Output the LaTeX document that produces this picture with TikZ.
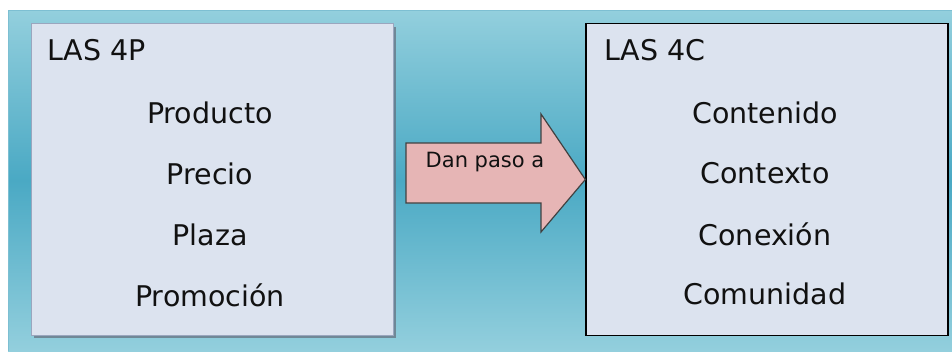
\documentclass[tikz,border=0pt]{standalone}
\usepackage{fontspec}
\setmainfont{DejaVu Sans}
\usetikzlibrary{shapes.arrows,shadows}
\definecolor{bglight}{HTML}{93CFDD}
\definecolor{bgdark}{HTML}{4AA9C4}
\definecolor{bgedge}{HTML}{7DBFD2}
\definecolor{boxfill}{HTML}{DCE3EF}
\definecolor{boxedge}{HTML}{9AA6BE}
\definecolor{arrowfill}{HTML}{E6B5B5}
\definecolor{ink}{HTML}{111111}
\tikzset{
  panel/.style={fill=boxfill, minimum width=362pt, minimum height=312pt, inner sep=0pt},
  title/.style={anchor=west, text=ink, font=\fontsize{28.5}{34}\selectfont, inner sep=0pt},
  item/.style={text=ink, font=\fontsize{28.5}{34}\selectfont, inner sep=0pt},
}
\begin{document}
\begin{tikzpicture}[x=1pt,y=-1pt]
  \useasboundingbox (0,0) rectangle (952,351);
  % backdrop with vertical gradient
  \shade[top color=bglight, bottom color=bglight, middle color=bgdark]
    (8,10) rectangle (952,351);
  \draw[bgedge, line width=1pt] (8,351) -- (8,10.5) -- (952,10.5);

  % left panel with soft drop shadow
  \fill[black!35!boxedge, opacity=0.7] (34,27) rectangle (396,338);
  \node[panel, draw=boxedge, line width=0.6pt] (p4) at (212,179.5) {};
  \node[title] at (47,50) {LAS 4P};
  \node[item] (prod) at (210,113) {Producto};
  \node[item] (prec) at (210,174) {Precio};
  \node[item] (plaz) at (210,235) {Plaza};
  \node[item] (prom) at (210,295) {Promoción};

  % right panel
  \node[panel, draw=black, line width=1.3pt] (c4) at (767,179.5) {};
  \node[title] at (604,50) {LAS 4C};
  \node[item] (cont) at (765,113) {Contenido};
  \node[item] (ctx) at (765,173) {Contexto};
  \node[item] (conx) at (765,234) {Conexión};
  \node[item] (comu) at (765,294) {Comunidad};

  % block arrow between the panels
  \draw[fill=arrowfill, draw=ink!80, line width=1.2pt, line join=miter]
    (406,143) -- (541,143) -- (541,114) -- (c4.west) -- (541,232)
    -- (541,203) -- (406,203) -- cycle;
  \node[text=ink, font=\fontsize{21}{25}\selectfont, inner sep=0pt] (lbl) at (485,162) {Dan paso a};
\end{tikzpicture}
\end{document}
